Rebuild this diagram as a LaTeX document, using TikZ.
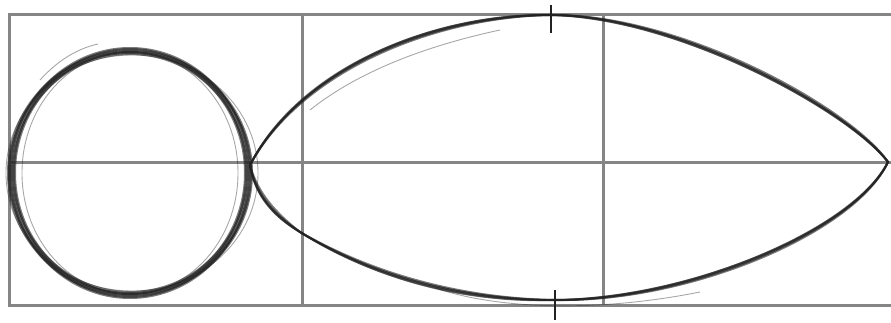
\documentclass[tikz,border=0pt]{standalone}
\usetikzlibrary{calc}
\definecolor{gridline}{HTML}{858585}
\definecolor{penline}{HTML}{222222}
\tikzset{
  guide/.style    = {draw=gridline, line width=3pt},
  pen/.style      = {draw=penline, line width=2pt, opacity=0.6},
  penlight/.style = {draw=penline, line width=0.9pt, opacity=0.4},
  tickmark/.style = {draw=penline, line width=1.8pt},
}
\begin{document}
\begin{tikzpicture}[x=1pt, y=-1pt]
    \useasboundingbox (0,0) rectangle (891,323);
    % guide grid
    \begin{scope}
        \clip (0,0) rectangle (891,323);
        \draw[guide] (9,15) rectangle (905,305);
    \end{scope}
    \draw[guide] (302,15) -- (302,305);
    \draw[guide] (603,15) -- (603,305);
    \draw[guide] (9,163) -- (891,163);
    % key points of the leaf
    \coordinate (tipL) at (250,165);
    \coordinate (top)  at (550,15);
    \coordinate (tipR) at (888,162);
    \coordinate (bot)  at (555,300);
    \coordinate (bend) at (300,232);
    \coordinate (ctr)  at (130,173);
    % circle, many loose strokes
    \foreach \dx/\dy/\rx/\ry in {0/0/120/123, 2/-1/118/121, -1/2/121/120,
                                 3/1/116/124, -2/-2/119/125, 1/3/117/119,
                                 -3/0/122/122, 2/2/115/121} {
        \draw[pen, shift={(\dx,\dy)}] (ctr) ellipse [x radius=\rx, y radius=\ry];
    }
    \draw[penlight] (ctr) ellipse [x radius=108, y radius=121];
    \draw[penlight] ($(ctr)+(2,0)$) ellipse [x radius=126, y radius=118];
    \draw[penlight] (40,80) .. controls (60,58) and (80,48) .. (98,44);
    % leaf outline
    \foreach \dx/\dy in {0/0, 1.5/-1.5, -1/1.5, 0.5/2.5, -1.5/-0.5} {
        \draw[pen, shift={(\dx,\dy)}]
            (tipL) .. controls (300,70) and (430,15) .. (top)
                   .. controls (680,15) and (850,110) .. (tipR)
                   .. controls (855,230) and (690,300) .. (bot)
                   .. controls (470,300) and (380,280) .. (bend)
                   .. controls (275,215) and (256,195) .. (tipL);
    }
    \draw[penlight] (310,110) .. controls (360,70) and (430,45) .. (500,30);
    \draw[penlight] (435,288) .. controls (500,310) and (600,312) .. (700,292);
    % ticks at the widest point
    \draw[tickmark] ($(top)+(1,-10)$) -- ($(top)+(1,18)$);
    \draw[tickmark] ($(bot)+(0,-10)$) -- ($(bot)+(0,20)$);
\end{tikzpicture}
\end{document}
